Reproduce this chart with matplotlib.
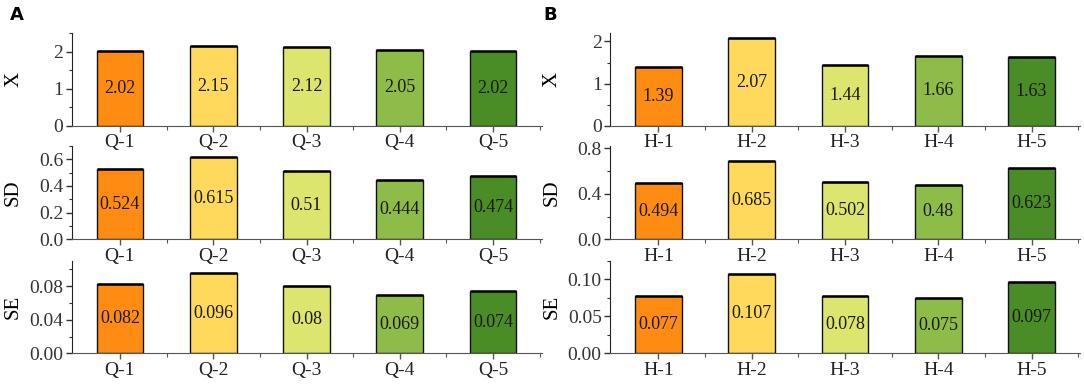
import matplotlib.pyplot as plt
from matplotlib.ticker import MultipleLocator, FixedLocator

# data
q_names = ['Q-1', 'Q-2', 'Q-3', 'Q-4', 'Q-5']
h_names = ['H-1', 'H-2', 'H-3', 'H-4', 'H-5']
q_x = [2.02, 2.15, 2.12, 2.05, 2.02]
q_sd = [0.524, 0.615, 0.51, 0.444, 0.474]
q_se = [0.082, 0.096, 0.08, 0.069, 0.074]
h_x = [1.39, 2.07, 1.44, 1.66, 1.63]
h_sd = [0.494, 0.685, 0.502, 0.48, 0.623]
h_se = [0.077, 0.107, 0.078, 0.075, 0.097]
q_labels = [['2.02', '2.15', '2.12', '2.05', '2.02'],
            ['0.524', '0.615', '0.51', '0.444', '0.474'],
            ['0.082', '0.096', '0.08', '0.069', '0.074']]
h_labels = [['1.39', '2.07', '1.44', '1.66', '1.63'],
            ['0.494', '0.685', '0.502', '0.48', '0.623'],
            ['0.077', '0.107', '0.078', '0.075', '0.097']]

colors = ['#FF8C12', '#FFD95C', '#DCE56E', '#8EBC48', '#4A8C26']
ylabels = ['X', 'SD', 'SE']

plt.rcParams['font.family'] = ['Liberation Serif', 'DejaVu Serif']

fig = plt.figure(figsize=(10.84, 3.87), dpi=100)

# axes geometry in pixels -> fractions
W, H = 1084.0, 387.0
rows = [(33, 126), (146, 239.3), (261, 353.3)]
cols = [71.5, 610.0]
width_px = 470.0


def draw(ax, names, vals, labels, ylab, ymax, major, minor, fmt):
    x = list(range(1, len(vals) + 1))
    ax.set_facecolor('none')
    ax.bar(x, vals, width=0.5, color=colors, edgecolor='#111111', linewidth=1.0, zorder=2)
    ax.hlines(vals, [i - 0.25 for i in x], [i + 0.25 for i in x], color='black', linewidth=1.8, zorder=3)
    for xi, v, lab in zip(x, vals, labels):
        ax.text(xi, v / 2, lab, ha='center', va='center', fontsize=13, color='#1a1a1a', zorder=4)
    ax.set_xlim(0.48, 5.52)
    ax.set_ylim(0, ymax)
    ax.set_xticks(x)
    ax.set_xticklabels(names, fontsize=14)
    ax.xaxis.set_minor_locator(FixedLocator([1.5, 2.5, 3.5, 4.5, 5.5]))
    ax.yaxis.set_major_locator(MultipleLocator(major))
    ax.yaxis.set_minor_locator(MultipleLocator(minor))
    ax.yaxis.set_major_formatter(fmt)
    ax.tick_params(axis='y', labelsize=14, length=4, width=1, pad=2, colors='#333333')
    ax.tick_params(axis='y', which='minor', length=2.5, width=0.8, colors='#333333')
    ax.tick_params(axis='x', length=4, width=1, pad=2, colors='#555555', labelcolor='#222222')
    ax.tick_params(axis='x', which='minor', length=3, width=0.8, colors='#555555')
    ax.spines['top'].set_visible(False)
    ax.spines['right'].set_visible(False)
    ax.spines['left'].set_color('#222222')
    ax.spines['bottom'].set_color('#555555')
    ax.set_ylabel(ylab, fontsize=15)
    ax.yaxis.set_label_coords(-0.103, 0.5)


panels = [
    (q_names, [q_x, q_sd, q_se], q_labels,
     [(2.5, 1, 0.5, '{x:.0f}'), (0.7, 0.2, 0.1, '{x:.1f}'), (0.11, 0.04, 0.02, '{x:.2f}')]),
    (h_names, [h_x, h_sd, h_se], h_labels,
     [(2.2, 1, 0.5, '{x:.0f}'), (0.82, 0.4, 0.2, '{x:.1f}'), (0.125, 0.05, 0.025, '{x:.2f}')]),
]

for c, (names, series, labs, specs) in enumerate(panels):
    for r in range(3):
        top, bot = rows[r]
        ax = fig.add_axes([cols[c] / W, 1 - bot / H, width_px / W, (bot - top) / H])
        ymax, major, minor, fmt = specs[r]
        draw(ax, names, series[r], labs[r], ylabels[r], ymax, major, minor, fmt)

fig.text(10 / W, 1 - 15 / H, 'A', fontsize=13, fontweight='bold', family='DejaVu Sans', va='center')
fig.text(543 / W, 1 - 15 / H, 'B', fontsize=13, fontweight='bold', family='DejaVu Sans', va='center')

fig.savefig('out.png', dpi=100)
